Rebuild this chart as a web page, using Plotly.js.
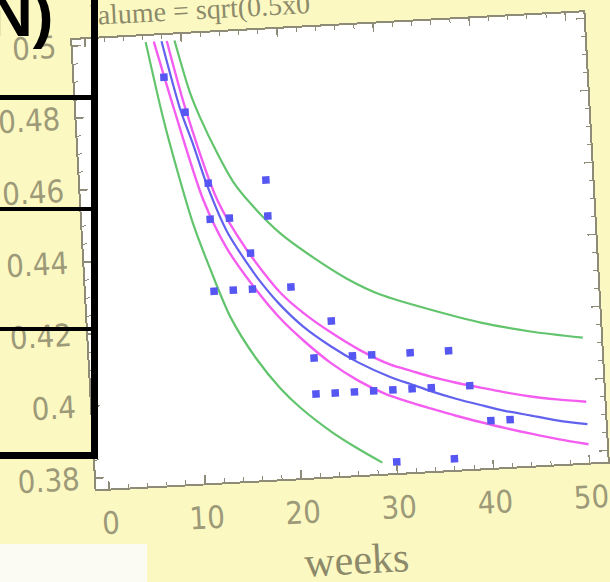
<!DOCTYPE html>
<html><head><meta charset="utf-8">
<script src="https://cdn.plot.ly/plotly-3.0.1.min.js"></script>
<style>
html,body{margin:0;padding:0;width:610px;height:582px;overflow:hidden;background:#fcf8c2;position:relative}
#chart{position:absolute;left:-14.5px;top:-104px;width:700px;height:710px;transform:rotate(-3.1deg);transform-origin:50% 50%}
.bar{position:absolute;background:#000}
</style></head><body>
<div id="chart"></div>
<div class="bar" style="left:91px;top:0;width:7px;height:459px"></div>
<div class="bar" style="left:0;top:95px;width:95px;height:4.5px"></div>
<div class="bar" style="left:0;top:206.5px;width:95px;height:4.5px"></div>
<div class="bar" style="left:0;top:326.5px;width:95px;height:4.5px"></div>
<div class="bar" style="left:0;top:451.5px;width:95px;height:7px"></div>
<div style="position:absolute;left:-12px;top:-16px;font:bold 62px 'Liberation Sans',Arial,sans-serif;line-height:1;color:#000;white-space:nowrap">N)</div>
<div style="position:absolute;left:0;top:544px;width:147px;height:38px;background:#fbfbf4"></div>
<script>
// observed data (weeks, value)
const weeks  = [8,10,12,12,12,14,14,16,16,18,18,20,22,22,24,24,26,26,28,28,30,30,32,32,34,36,36,38,40,42];
const values = [0.49,0.48,0.46,0.45,0.43,0.45,0.43,0.44,0.43,0.46,0.45,0.43,0.41,0.40,0.42,0.40,0.41,0.40,0.41,0.40,0.40,0.38,0.41,0.40,0.40,0.41,0.38,0.40,0.39,0.39];
// fitted curve
const fitWeeks = [7.95, 9.5, 10.7, 11.9, 13.7, 15.6, 16.9, 18.6, 21.0, 23.8, 26.5, 29.8, 32.0, 34.0, 36.5, 39.0, 41.5, 44.2, 47.0, 50];
const fitVals  = [0.5, 0.4810, 0.4705, 0.4592, 0.4462, 0.4372, 0.4318, 0.4258, 0.4190, 0.4130, 0.4082, 0.4036, 0.4012, 0.3990, 0.3966, 0.3945, 0.3925, 0.3908, 0.3890, 0.3876];
// confidence band
const confUpWeeks = [8.5, 10.1, 12.85, 15.5, 18.9, 21.2, 23.8, 26.8, 29.9, 32.0, 34.0, 36.5, 39.1, 41.5, 44.3, 47.0, 50];
const confUpVals  = [0.5, 0.4805, 0.4552, 0.4415, 0.4285, 0.4225, 0.4170, 0.4115, 0.4070, 0.4050, 0.4031, 0.4011, 0.3993, 0.3977, 0.3961, 0.3949, 0.3938];
const confLoWeeks = [7.15, 8.9, 11.4, 13.5, 15.8, 18.7, 21.0, 23.7, 26.5, 29.2, 31.5, 33.9, 36.5, 39.0, 41.5, 44.1, 47.0, 50];
const confLoVals  = [0.5, 0.4807, 0.4554, 0.4420, 0.4320, 0.4215, 0.4150, 0.4084, 0.4030, 0.3990, 0.3965, 0.3942, 0.3918, 0.3897, 0.3877, 0.3858, 0.3838, 0.3820];
// prediction band
const predUpWeeks = [9.3, 10.6, 11.5, 13.1, 14.6, 16.2, 19.2, 22.5, 25.9, 29.3, 34.4, 39.5, 44.6, 50];
const predUpVals  = [0.5, 0.4855, 0.4785, 0.4682, 0.4600, 0.4540, 0.4450, 0.4378, 0.4314, 0.4265, 0.4216, 0.4173, 0.4141, 0.4116];
const predLoWeeks = [6.3, 7.7, 8.9, 10.2, 11.75, 13.57, 15.98, 18.37, 20.4, 23.4, 25.9, 28.5];
const predLoVals  = [0.5, 0.4785, 0.4635, 0.4490, 0.4360, 0.4225, 0.4108, 0.4020, 0.3962, 0.3893, 0.3845, 0.3800];
// axes
const xTickVals = [0,10,20,30,40,50];
const xTickText = ['0','10','20','30','40','50'];
const yTickVals = [0.38,0.40,0.42,0.44,0.46,0.48,0.50];
const yTickText = ['0.38','0.4','0.42','0.44','0.46','0.48','0.5'];
const xLabel = 'weeks';
const topLabel = 'lalume = sqrt(0.5x0';

const green = '#62c46c', magenta = '#f45ef0', blue = '#6262ee';
const traces = [
  {x: predUpWeeks, y: predUpVals, mode:'lines', line:{color:green, width:2.2, shape:'spline', smoothing:0.8}},
  {x: predLoWeeks, y: predLoVals, mode:'lines', line:{color:green, width:2.2, shape:'spline', smoothing:0.8}},
  {x: confUpWeeks, y: confUpVals, mode:'lines', line:{color:magenta, width:2.4, shape:'spline', smoothing:0.8}},
  {x: confLoWeeks, y: confLoVals, mode:'lines', line:{color:magenta, width:2.4, shape:'spline', smoothing:0.8}},
  {x: fitWeeks, y: fitVals, mode:'lines', line:{color:blue, width:2.2, shape:'spline', smoothing:0.8}},
  {x: weeks, y: values, mode:'markers', marker:{symbol:'square', size:7.5, color:'#5656f2'}}
];
const tickFont = {family:"'DejaVu Sans Condensed','Liberation Sans Narrow',sans-serif", size:31, color:'#9c9a78'};
const frame = '#8e8c78';
const layout = {
  width:700, height:710,
  margin:{l:98, r:90, t:130, b:130},
  paper_bgcolor:'rgba(0,0,0,0)', plot_bgcolor:'#ffffff',
  showlegend:false,
  xaxis:{range:[-1.31, 51.9], tickmode:'array', tickvals:xTickVals, ticktext:xTickText,
    ticks:'inside', ticklen:8, tickwidth:1.5, tickcolor:frame, mirror:'ticks',
    showline:true, linecolor:frame, linewidth:2, showgrid:false, zeroline:false,
    minor:{tickmode:'linear', tick0:0, dtick:2, ticks:'inside', ticklen:4, tickcolor:frame, tickwidth:1},
    tickfont:tickFont, ticklabelstandoff:6,
    title:{text:xLabel, font:{family:"'Liberation Serif',serif", size:42, color:'#8c8a6a'}, standoff:18}},
  yaxis:{range:[0.3769, 0.5017], tickmode:'array', tickvals:yTickVals, ticktext:yTickText,
    ticks:'inside', ticklen:8, tickwidth:1.5, tickcolor:frame, mirror:'ticks',
    showline:true, linecolor:frame, linewidth:2, showgrid:false, zeroline:false,
    minor:{tickmode:'linear', tick0:0.38, dtick:0.005, ticks:'inside', ticklen:4, tickcolor:frame, tickwidth:1},
    tickfont:tickFont, ticklabelstandoff:8},
  annotations:[{text:topLabel, xref:'paper', yref:'paper', x:0.034, y:1, xanchor:'left', yanchor:'middle', yshift:24,
    showarrow:false, font:{family:"'Liberation Serif',serif", size:28, color:'#8c8a6a'}}]
};
Plotly.newPlot('chart', traces, layout, {staticPlot:true, displayModeBar:false});
</script>
</body></html>
